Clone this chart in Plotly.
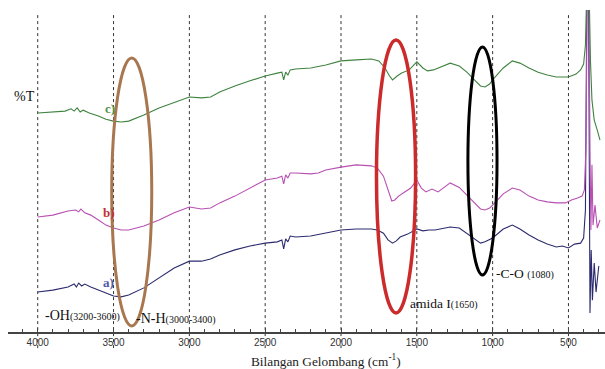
import plotly.graph_objects as go

# FTIR spectra (wavenumber in cm^-1, relative %T with vertical offsets)
wn_c = [4000, 3900, 3820, 3780, 3760, 3740, 3720, 3700, 3660, 3600, 3550, 3500, 3450, 3400,
        3300, 3200, 3100, 3000, 2920, 2860, 2800, 2700, 2600, 2500, 2420, 2390, 2378, 2365,
        2350, 2335, 2300, 2200, 2100, 2000, 1900, 1800, 1750, 1710, 1680, 1660, 1630, 1600,
        1550, 1500, 1460, 1430, 1390, 1340, 1280, 1220, 1170, 1120, 1080, 1050, 1020, 1000,
        930, 870, 820, 760, 700, 640, 580, 500, 450, 420, 400, 388, 378, 365, 355, 345, 330,
        310, 292]
t_c = [68.0, 68.3, 68.6, 69.3, 68.6, 69.6, 68.3, 68.9, 68.0, 67.1, 66.1, 65.5, 65.2, 65.5,
       67.4, 69.6, 71.4, 73.0, 72.7, 73.0, 74.5, 76.4, 78.0, 79.5, 80.4, 80.7, 78.3, 80.7,
       79.8, 81.4, 81.7, 82.0, 82.9, 84.2, 84.5, 84.8, 84.2, 82.0, 79.5, 78.3, 79.5, 80.4,
       81.4, 83.9, 82.0, 81.1, 81.4, 82.3, 83.5, 82.6, 80.7, 78.3, 76.4, 76.1, 77.0, 78.3,
       82.0, 84.2, 83.5, 82.0, 80.7, 79.8, 79.2, 79.2, 80.1, 81.4, 83.2, 89.1, 109.3, 109.3,
       84.5, 72.0, 65.8, 62.7, 59.6]

wn_b = [4000, 3900, 3800, 3750, 3730, 3715, 3690, 3650, 3600, 3550, 3500, 3450, 3400, 3300,
        3200, 3100, 3000, 2920, 2860, 2800, 2700, 2600, 2500, 2420, 2390, 2378, 2365, 2350,
        2335, 2300, 2200, 2150, 2100, 2000, 1900, 1800, 1760, 1720, 1690, 1665, 1645, 1620,
        1580, 1540, 1500, 1470, 1440, 1400, 1360, 1320, 1280, 1220, 1170, 1120, 1080, 1050,
        1020, 1000, 930, 870, 820, 760, 700, 640, 580, 520, 480, 440, 410, 395, 385, 375,
        366, 358, 352, 345, 338, 325, 310, 292]
t_b = [35.7, 36.3, 37.6, 37.9, 37.3, 38.2, 37.0, 36.3, 34.8, 33.2, 32.3, 31.7, 31.7, 32.9,
       34.8, 37.0, 38.8, 38.2, 38.5, 40.1, 42.2, 44.7, 47.2, 47.8, 48.4, 46.0, 48.8, 47.8,
       49.4, 49.4, 49.1, 49.4, 50.3, 51.2, 51.9, 51.6, 50.9, 48.4, 44.1, 40.7, 41.0, 42.2,
       43.5, 44.7, 47.2, 44.7, 43.5, 44.4, 43.5, 44.9, 46.3, 44.9, 42.5, 39.8, 38.2, 37.9,
       38.5, 39.4, 42.9, 44.7, 44.1, 42.2, 41.0, 40.4, 40.1, 40.1, 41.0, 41.6, 42.2, 44.1,
       56.5, 109.3, 109.3, 56.5, 31.7, 51.9, 33.2, 39.4, 32.3, 34.8]

wn_a = [4000, 3900, 3800, 3760, 3745, 3730, 3710, 3690, 3650, 3600, 3550, 3500, 3450, 3400,
        3300, 3200, 3100, 3000, 2920, 2860, 2800, 2700, 2600, 2500, 2420, 2390, 2378, 2365,
        2350, 2335, 2300, 2200, 2100, 2000, 1900, 1800, 1760, 1720, 1690, 1660, 1635, 1610,
        1560, 1500, 1460, 1420, 1380, 1320, 1280, 1220, 1170, 1120, 1080, 1050, 1020, 1000,
        930, 870, 820, 760, 700, 640, 580, 540, 500, 460, 420, 400, 388, 378, 368, 358, 350,
        342, 330, 318, 300]
t_a = [12.4, 13.0, 14.0, 14.9, 14.0, 15.2, 14.3, 14.9, 14.0, 13.0, 12.1, 11.2, 10.9, 11.5,
       13.7, 16.8, 19.9, 22.0, 22.0, 22.7, 23.9, 25.5, 26.7, 27.6, 28.0, 28.6, 25.8, 28.9,
       28.0, 29.8, 29.5, 29.8, 30.7, 31.7, 32.0, 32.0, 31.7, 30.7, 28.6, 27.6, 28.3, 29.5,
       30.4, 32.0, 31.4, 31.7, 31.7, 32.3, 32.6, 32.3, 30.7, 28.9, 27.6, 28.0, 28.6, 29.2,
       32.0, 33.2, 32.0, 30.1, 28.6, 27.3, 26.4, 26.7, 26.1, 27.3, 27.6, 29.2, 37.9, 109.3,
       109.3, 5.9, 25.5, 9.9, 21.4, 12.4, 20.5]

tick_vals = [4000, 3500, 3000, 2500, 2000, 1500, 1000, 500]
tick_text = [str(v) for v in tick_vals]

# highlighted absorption bands: (centre cm^-1, half width, low %T, high %T, colour, width)
bands = [
    (3380, 132, 1.9, 85.1, "#a8774f", 3),
    (1637, 129, 5.9, 90.7, "#cc2b2b", 3.5),
    (1067, 96, 17.7, 88.5, "#000000", 3),
]

fig = go.Figure()
fig.add_trace(go.Scatter(x=wn_a, y=t_a, mode="lines",
                         line=dict(color="#2b2b6e", width=1.1), name="a)"))
fig.add_trace(go.Scatter(x=wn_b, y=t_b, mode="lines",
                         line=dict(color="#b84fb2", width=1.1), name="b)"))
fig.add_trace(go.Scatter(x=wn_c, y=t_c, mode="lines",
                         line=dict(color="#3f833f", width=1.1), name="c)"))

shapes = []
for v in tick_vals:
    shapes.append(dict(type="line", xref="x", yref="paper", x0=v, x1=v, y0=-0.05, y1=0.99,
                       line=dict(color="#333333", width=1, dash="3px,3px"), layer="below"))
for c, hw, lo, hi, col, w in bands:
    shapes.append(dict(type="circle", xref="x", yref="y", x0=c + hw, x1=c - hw, y0=lo, y1=hi,
                       line=dict(color=col, width=w)))

serif = "Liberation Serif"
annotations = [
    dict(x=4090, y=73.0, text="%T", font=dict(family=serif, size=14, color="#111")),
    dict(x=3523, y=69.3, text="<b>c)</b>", font=dict(family=serif, size=13, color="#4f944f")),
    dict(x=3530, y=37.0, text="<b>b)</b>", font=dict(family=serif, size=13, color="#c43232")),
    dict(x=3536, y=15.5, text="<b>a)</b>", font=dict(family=serif, size=13, color="#4d5ca4")),
    dict(x=3965, y=5.0, xanchor="left",
         text="-OH<span style='font-size:10px'>(3200-3600)</span>",
         font=dict(family=serif, size=14, color="#111")),
    dict(x=3364, y=4.3, xanchor="left",
         text="-N-H<span style='font-size:10px'>(3000-3400)</span>",
         font=dict(family=serif, size=14, color="#111")),
    dict(x=1559, y=9.0, xanchor="left",
         text="amida I<span style='font-size:10px'>(1650)</span>",
         font=dict(family=serif, size=13.5, color="#111")),
    dict(x=991, y=18.3, xanchor="left",
         text="-C-O <span style='font-size:10px'>(1080)</span>",
         font=dict(family=serif, size=13.5, color="#111")),
]
for a in annotations:
    a.update(xref="x", yref="y", showarrow=False)

# axis title, placed beneath the tick labels
annotations.append(dict(x=2099, y=-0.087, xref="x", yref="paper", yanchor="middle",
                        showarrow=False,
                        text="Bilangan Gelombang (cm<sup>-1</sup>)",
                        font=dict(family=serif, size=13.3, color="#222")))

fig.update_layout(
    width=605, height=369,
    margin=dict(l=8, r=0, t=10, b=37),
    paper_bgcolor="white", plot_bgcolor="white",
    showlegend=False,
    shapes=shapes,
    annotations=annotations,
    xaxis=dict(
        range=[4196, 259], showgrid=False, zeroline=False,
        showline=True, linecolor="#444444", linewidth=1.5,
        tickmode="array", tickvals=tick_vals, ticktext=tick_text,
        ticks="inside", ticklen=4, tickcolor="#444444",
        minor=dict(dtick=100, ticks="inside", ticklen=3, tickcolor="#444444"),
        tickfont=dict(family="Liberation Sans", size=10, color="#333"),
    ),
    yaxis=dict(range=[0, 100], visible=False),
)

fig.write_html("out.html")
